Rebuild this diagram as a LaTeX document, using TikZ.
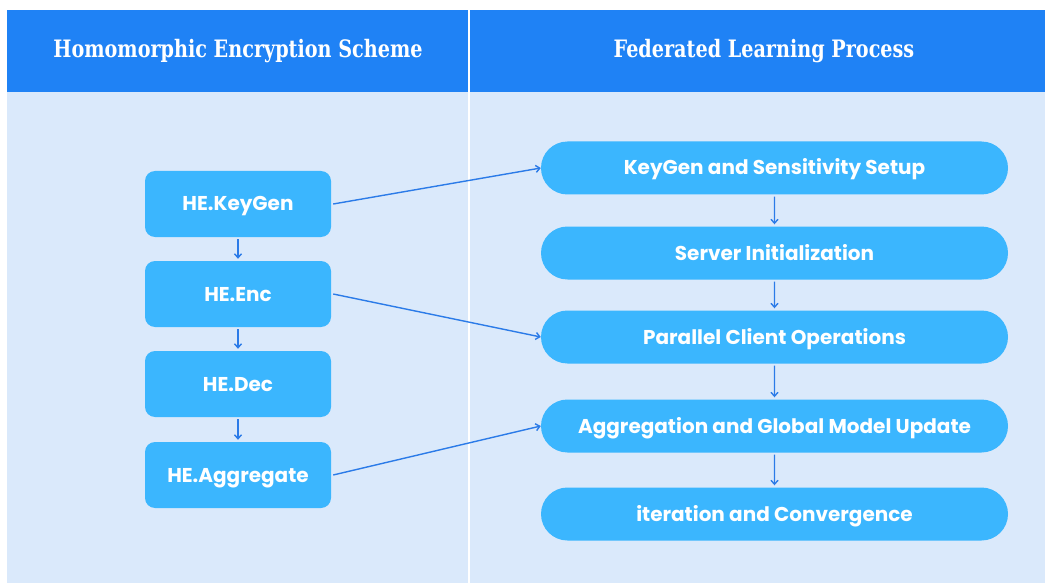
\documentclass[tikz,border=0pt]{standalone}
\usepackage{fontspec}
\setmainfont{Poppins}
\newfontfamily\headfont[FakeStretch=0.8,BoldFont={DejaVu Serif Bold},
  BoldFeatures={FakeStretch=0.8}]{DejaVu Serif}
\usetikzlibrary{arrows.meta,shapes.misc}

\definecolor{headblue}{HTML}{1F82F5}
\definecolor{paneblue}{HTML}{DAE9FB}
\definecolor{boxblue}{HTML}{3BB6FE}
\definecolor{linkblue}{HTML}{2B7BE8}

\tikzset{
  heading/.style={text=white,font=\headfont\bfseries\fontsize{24}{29}\selectfont},
  hebox/.style={rectangle,rounded corners=10pt,fill=boxblue,text=white,
    minimum width=186pt,minimum height=66pt,inner sep=0pt,
    text height=14pt,text depth=0pt,
    font=\bfseries\fontsize{20}{24}\selectfont},
  flbox/.style={rounded rectangle,fill=boxblue,text=white,
    minimum width=467pt,minimum height=53pt,inner sep=0pt,
    text height=14pt,text depth=0pt,
    font=\bfseries\fontsize{20}{24}\selectfont},
  link/.style={draw=linkblue,line width=1.4pt,-{Straight Barb[length=4pt,width=7pt]}}
}

\begin{document}
\begin{tikzpicture}[x=1pt,y=-1pt]
\useasboundingbox (0,0) rectangle (1045,583);
% two panes with their title bands
\fill[paneblue] (7,92) rectangle (468,583);
\fill[paneblue] (470,92) rectangle (1045,583);
\fill[headblue] (7,10) rectangle (468,92);
\fill[headblue] (470,10) rectangle (1045,92);
\node[heading] (hetitle) at (238,51) {Homomorphic Encryption Scheme};
\node[heading] (fltitle) at (764,51) {Federated Learning Process};

% HE primitives
\node[hebox] (hekeygen) at (238,204) {HE.KeyGen};
\node[hebox] (heenc) at (238,294) {HE.Enc};
\node[hebox] (hedec) at (238,384) {HE.Dec};
\node[hebox] (heagg) at (238,475) {HE.Aggregate};

% FL stages
\node[flbox] (setup) at (774.5,168) {KeyGen and Sensitivity Setup};
\node[flbox] (init) at (774.5,253) {Server Initialization};
\node[flbox] (client) at (774.5,337) {Parallel Client Operations};
\node[flbox] (update) at (774.5,426) {Aggregation and Global Model Update};
\node[flbox] (conv) at (774.5,514) {iteration and Convergence};

% flow inside each pane
\foreach \a/\b in {hekeygen/heenc,heenc/hedec,hedec/heagg,
                   setup/init,init/client,client/update,update/conv}
  \draw[link,shorten <=2pt,shorten >=2pt] (\a) -- (\b);

% HE primitive used by each stage
\draw[link] (hekeygen.east) ++(2,0) -- (setup.west);
\draw[link] (heenc.east) ++(2,0) -- (client.west);
\draw[link] (heagg.east) ++(2,0) -- (update.west);
\end{tikzpicture}
\end{document}
